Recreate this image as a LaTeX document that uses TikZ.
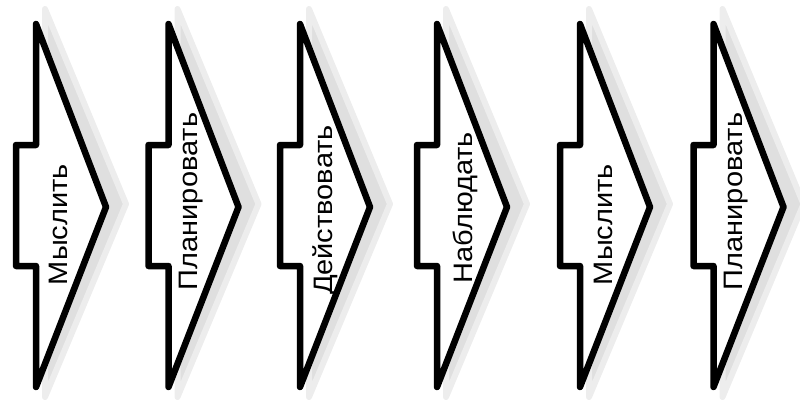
\documentclass[tikz,border=0pt]{standalone}
\usepackage{fontspec}
\setmainfont{Liberation Sans}
\usepackage{graphicx}
\tikzset{
  arrowbody/.style={draw=black, fill=white, line width=6.5pt, line join=round},
  arrowshadow/.style={fill=gray!25, draw=gray!14, line width=6pt, line join=round},
  arrowlabel/.style={rotate=90, anchor=base, inner sep=0pt, font=\fontsize{29}{30}\selectfont}
}
\begin{document}
\begin{tikzpicture}[x=1pt, y=-1pt]
\useasboundingbox (0,0) rectangle (800,400);
\foreach \L/\bx/\cy/\txt [count=\i] in {36/67/224.5/Мыслить, 168.5/197/201.5/Планировать, 300/332/210/Действовать, 437/472/207.5/Наблюдать, 580/612/224.5/Мыслить, 713.5/742/201.5/Планировать}{
  \path[arrowshadow] (\L+9,9) -- (\L+90,204) -- (\L+9,397) -- cycle;
  \path[arrowbody] (\L,24) -- (\L+70,207) -- (\L,387) -- (\L,266) -- (\L-20,266) -- (\L-20,145) -- (\L,145) -- cycle;
  \node[arrowlabel] (t\i) at (\bx,\cy) {\scalebox{1}[0.92]{\txt}};
}
\end{tikzpicture}
\end{document}
